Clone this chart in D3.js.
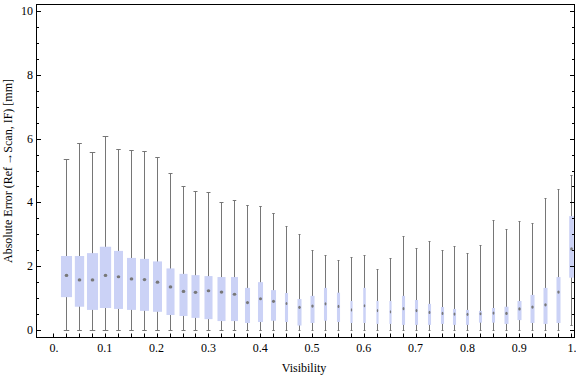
<!DOCTYPE html>
<html><head><meta charset="utf-8">
<script src="https://cdn.jsdelivr.net/npm/d3@7"></script>
<style>body{margin:0;background:#fff}svg{display:block}text{font-family:"Liberation Serif","DejaVu Serif",serif;}</style>
</head><body><svg id="c" width="576" height="377"></svg>
<script>
// visibility bin centres
const bins = d3.range(1, 41).map(k => k * 0.025);
const maxV = [5.35,5.86,5.57,6.08,5.67,5.64,5.60,5.43,4.91,4.50,4.35,4.32,4.00,4.07,3.91,3.88,3.66,3.25,3.00,2.50,2.34,2.18,2.28,2.34,1.90,2.25,2.94,2.56,2.78,2.50,2.62,2.40,2.65,3.44,3.16,3.41,3.35,4.13,4.41,4.86];
const q3V  = [2.32,2.32,2.41,2.61,2.48,2.26,2.23,2.15,1.93,1.76,1.72,1.69,1.66,1.66,1.32,1.50,1.25,1.16,0.97,1.07,1.32,1.17,0.91,1.32,0.91,0.91,1.07,0.94,0.82,0.72,0.66,0.63,0.60,0.69,0.73,0.91,1.10,1.32,1.66,3.57];
const medV = [1.71,1.57,1.57,1.71,1.67,1.60,1.58,1.50,1.35,1.21,1.18,1.23,1.19,1.12,0.86,0.98,0.90,0.83,0.71,0.75,0.82,0.74,0.63,0.76,0.61,0.57,0.67,0.61,0.55,0.52,0.50,0.49,0.51,0.53,0.52,0.66,0.72,0.79,1.19,2.54];
const q1V  = [1.03,0.73,0.63,0.69,0.66,0.63,0.60,0.57,0.47,0.44,0.38,0.34,0.28,0.28,0.22,0.25,0.29,0.25,0.14,0.22,0.29,0.25,0.22,0.22,0.19,0.19,0.16,0.16,0.16,0.19,0.16,0.16,0.23,0.23,0.19,0.31,0.22,0.19,0.22,1.64];
const minV = [0,0,0,0,0,0,0,0,0,0,0,0,0,0,0,0,0,0,0,0,0,0,0,0,0,0,0,0,0,0,0,0,0,0,0,0,0,0,0,0.15];
// relative sample weight per bin (drives box width)
const weight = [0.96,0.81,0.96,0.98,0.78,0.78,0.78,0.78,0.70,0.70,0.70,0.70,0.70,0.61,0.44,0.44,0.44,0.27,0.35,0.35,0.27,0.27,0.19,0.22,0.19,0.19,0.27,0.27,0.27,0.27,0.27,0.27,0.27,0.27,0.35,0.35,0.35,0.35,0.35,0.40];
const xTicks = [0,0.1,0.2,0.3,0.4,0.5,0.6,0.7,0.8,0.9,1.0];
const xTickLabels = ["0.","0.1","0.2","0.3","0.4","0.5","0.6","0.7","0.8","0.9","1."];
const yTicks = [0,2,4,6,8,10];

const svg = d3.select("#c");
const frame = {l:36.5, r:574.5, t:4.5, b:337.5};
const x = d3.scaleLinear().domain([0,1]).range([53,571]);
const y = d3.scaleLinear().domain([0,10]).range([330,11]);
const w = d3.scaleLinear().domain([0,1]).range([0,11.5]);

const data = bins.map((b,i)=>({b, max:maxV[i], q3:q3V[i], med:medV[i], q1:q1V[i], min:minV[i], wt:weight[i]}));

const gray = "#767676";
const g = svg.append("g");
data.forEach(d=>{
  const cx = Math.round(x(d.b)) + 0.5, bw = w(d.wt), cw = Math.max(2, bw*0.5);
  const yMax = Math.round(y(d.max)) + 0.5, yMin = Math.round(y(d.min)) + 0.5;
  g.append("line").attr("x1",cx).attr("x2",cx).attr("y1",yMin).attr("y2",yMax).attr("stroke",gray).attr("stroke-width",1);
  [yMin,yMax].forEach(v=>g.append("line").attr("x1",cx-cw/2).attr("x2",cx+cw/2).attr("y1",v).attr("y2",v).attr("stroke",gray).attr("stroke-width",1));
  g.append("rect").attr("x",cx-bw/2).attr("width",bw).attr("y",y(d.q3)).attr("height",y(d.q1)-y(d.q3)).attr("fill","#cbd2f6");
  g.append("ellipse").attr("cx",cx).attr("cy",y(d.med)).attr("rx",Math.min(1.8,bw*0.3)).attr("ry",1.6).attr("fill","#787878");
});

// frame
const ax = svg.append("g").attr("stroke","#000").attr("fill","none");
ax.append("rect").attr("x",frame.l).attr("y",frame.t).attr("width",frame.r-frame.l).attr("height",frame.b-frame.t).attr("stroke-width",1);

// y ticks (left and right)
const yMinor = d3.range(0,10.01,0.5);
yMinor.forEach(v=>{
  const major = Math.abs(v/2-Math.round(v/2))<1e-6;
  const len = major?4.5:2.5;
  const yy = Math.round(y(v)) + 0.5;
  ax.append("line").attr("x1",frame.l).attr("x2",frame.l+len).attr("y1",yy).attr("y2",yy);
  ax.append("line").attr("x1",frame.r).attr("x2",frame.r-len).attr("y1",yy).attr("y2",yy);
});
// x ticks at every bin position
d3.range(0,41).forEach(k=>{
  const xv = Math.round(x(k*0.025)) + 0.5;
  ax.append("line").attr("x1",xv).attr("x2",xv).attr("y1",frame.b).attr("y2",frame.b-4);
});

// labels
const txt = svg.append("g").attr("fill","#000").attr("font-size",12);
yTicks.forEach(v=>txt.append("text").attr("x",33).attr("y",y(v)+4).attr("text-anchor","end").text(v));
xTicks.forEach((v,i)=>txt.append("text").attr("x",x(v)+(i===0||i===10?1:0)).attr("y",352).attr("text-anchor","middle").text(xTickLabels[i]));
txt.append("text").attr("x",304).attr("y",372).attr("text-anchor","middle").text("Visibility");
txt.append("text").attr("transform","translate(12,171) rotate(-90)").attr("text-anchor","middle").text("Absolute Error (Ref\u2009\u2192Scan, IF) [mm]");
</script></body></html>
